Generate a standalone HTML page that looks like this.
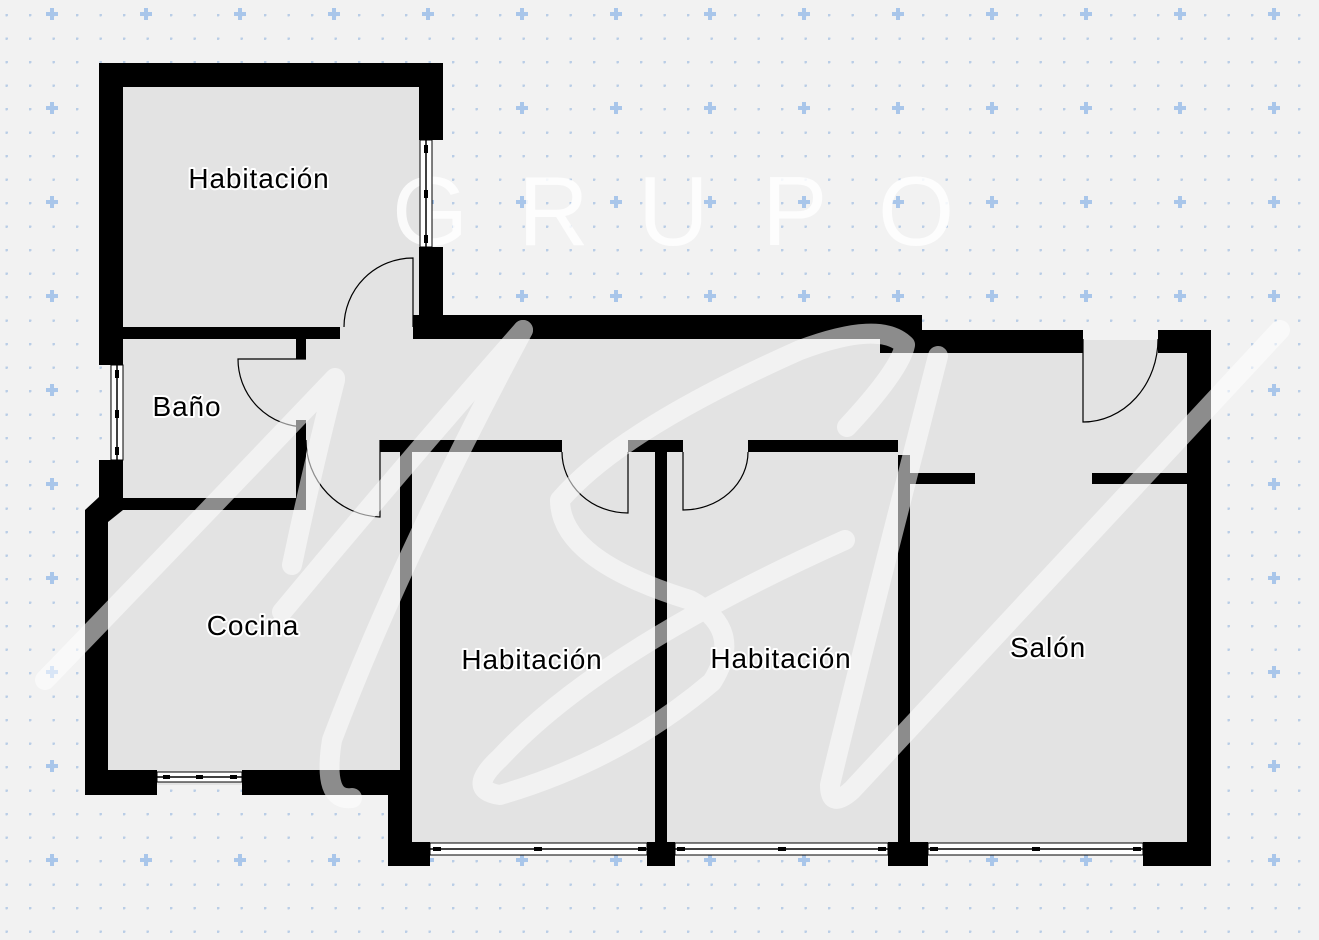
<!DOCTYPE html>
<html><head><meta charset="utf-8"><style>
html,body{margin:0;padding:0;background:#f2f2f2;}
svg{display:block;}
.lbl{font-family:"Liberation Sans",sans-serif;font-size:28px;letter-spacing:0.9px;fill:#000;stroke:#fff;stroke-width:4px;paint-order:stroke;stroke-linejoin:round;}
</style></head><body>
<svg width="1319" height="940" viewBox="0 0 1319 940" xmlns="http://www.w3.org/2000/svg">
<defs>
<pattern id="dots" x="5.5" y="14" width="23.5" height="23.5" patternUnits="userSpaceOnUse">
<circle cx="1" cy="1" r="1.5" fill="#b9cde6"/>
</pattern>
<pattern id="cross" x="46" y="8" width="94" height="94" patternUnits="userSpaceOnUse">
<rect x="0" y="4" width="12" height="4" fill="#a9c6ea"/>
<rect x="4" y="0" width="4" height="12" fill="#a9c6ea"/>
</pattern>
</defs>
<rect width="1319" height="940" fill="#f2f2f2"/>
<rect width="1319" height="940" fill="url(#dots)"/>
<rect width="1319" height="940" fill="url(#cross)"/>

<g fill="#e3e3e3">
<rect x="110" y="75" width="320" height="430"/>
<rect x="95" y="505" width="310" height="280"/>
<rect x="300" y="330" width="600" height="120"/>
<rect x="880" y="340" width="320" height="510"/>
<rect x="400" y="445" width="500" height="405"/>
</g>

<g font-family="Liberation Sans, sans-serif" font-size="98" fill="#ffffff" opacity="0.85">
<text x="392" y="245">G</text>
<text x="518" y="245">R</text>
<text x="638" y="245">U</text>
<text x="762" y="245">P</text>
<text x="878" y="245">O</text>
</g>

<g fill="#000">
<rect x="99" y="63" width="344" height="24"/>
<rect x="99" y="63" width="24" height="302"/>
<rect x="419" y="63" width="24" height="77"/>
<rect x="419" y="247" width="24" height="92"/>
<rect x="123" y="327" width="217" height="12"/>
<rect x="413" y="315" width="509" height="24"/>
<rect x="880" y="315" width="42" height="38"/>
<rect x="922" y="330" width="161" height="23"/>
<rect x="1158" y="330" width="53" height="23"/>
<rect x="1187" y="330" width="24" height="536"/>
<rect x="99" y="460" width="24" height="40"/>
<rect x="296" y="339" width="10" height="20"/>
<rect x="296" y="420" width="10" height="90"/>
<rect x="108" y="498" width="198" height="12"/>
<polygon points="99,497 123,497 123,510 108,522 108,795 85,795 85,510"/>
<rect x="85" y="770" width="72" height="25"/>
<rect x="242" y="770" width="170" height="25"/>
<rect x="400" y="440" width="12" height="355"/>
<rect x="388" y="770" width="24" height="96"/>
<rect x="380" y="440" width="182" height="12"/>
<rect x="628" y="440" width="55" height="12"/>
<rect x="748" y="440" width="150" height="12"/>
<rect x="655" y="440" width="12" height="405"/>
<rect x="898" y="455" width="12" height="390"/>
<rect x="910" y="473" width="65" height="11"/>
<rect x="1092" y="473" width="95" height="11"/>
<rect x="388" y="842" width="42" height="24"/>
<rect x="647" y="842" width="28" height="24"/>
<rect x="888" y="842" width="40" height="24"/>
<rect x="1143" y="842" width="68" height="24"/>
</g>

<g fill="#fff" stroke="#000" stroke-width="1">
<rect x="420" y="140" width="12" height="107"/>
<rect x="111" y="365" width="12" height="95"/>
<rect x="157" y="772" width="85" height="10"/>
<rect x="430" y="843" width="217" height="12"/>
<rect x="675" y="843" width="213" height="12"/>
<rect x="928" y="843" width="215" height="12"/>
</g>
<g stroke="#000" stroke-width="1.5">
<line x1="426" y1="140" x2="426" y2="247"/>
<line x1="117" y1="365" x2="117" y2="460"/>
<line x1="157" y1="777" x2="242" y2="777"/>
<line x1="430" y1="849" x2="647" y2="849"/>
<line x1="675" y1="849" x2="888" y2="849"/>
<line x1="928" y1="849" x2="1143" y2="849"/>
</g>
<g fill="#000">
<rect x="424" y="145" width="4" height="8"/><rect x="424" y="190" width="4" height="8"/><rect x="424" y="235" width="4" height="8"/>
<rect x="115" y="370" width="4" height="8"/><rect x="115" y="410" width="4" height="8"/><rect x="115" y="447" width="4" height="8"/>
<rect x="433" y="847" width="8" height="4"/><rect x="534" y="847" width="8" height="4"/><rect x="638" y="847" width="8" height="4"/>
<rect x="677" y="847" width="8" height="4"/><rect x="778" y="847" width="8" height="4"/><rect x="878" y="847" width="8" height="4"/>
<rect x="930" y="847" width="8" height="4"/><rect x="1032" y="847" width="8" height="4"/><rect x="1133" y="847" width="8" height="4"/>
<rect x="163" y="775" width="7" height="4"/><rect x="196" y="775" width="7" height="4"/><rect x="230" y="775" width="7" height="4"/>
</g>

<g fill="none" stroke="#000" stroke-width="1.2">
<path d="M413,327 L413,258 A69,69 0 0 0 344,327"/>
<path d="M306,359 L238,359 A68,68 0 0 0 306,427"/>
<path d="M380,440 L380,517 A77,77 0 0 1 306,440"/>
<path d="M628,452 L628,513 A66,61 0 0 1 562,452"/>
<path d="M683,452 L683,510 A65,58 0 0 0 748,452"/>
<path d="M1083,339 L1083,422 A75,83 0 0 0 1158,339"/>
</g>

<g fill="none" stroke="#ffffff" stroke-width="20" stroke-linecap="round" stroke-linejoin="round" opacity="0.55">
<path d="M45,680 Q190,530 335,378"/>
<path d="M335,380 Q312,470 292,565"/>
<path d="M282,612 Q400,470 523,330"/>
<path d="M523,330 Q400,560 332,740 Q322,802 352,798"/>
<path d="M847,427 Q900,370 905,345 Q880,320 800,350 Q620,430 560,500 Q560,560 690,600 Q745,630 712,682 Q620,760 500,795 Q465,790 500,758 Q600,650 845,540"/>
<path d="M938,356 Q850,700 830,785 Q830,810 852,790 L1280,330"/>
</g>

<text class="lbl" x="259" y="188" text-anchor="middle">Habitación</text>
<text class="lbl" x="187" y="416" text-anchor="middle">Baño</text>
<text class="lbl" x="253" y="635" text-anchor="middle">Cocina</text>
<text class="lbl" x="532" y="669" text-anchor="middle">Habitación</text>
<text class="lbl" x="781" y="668" text-anchor="middle">Habitación</text>
<text class="lbl" x="1048" y="657" text-anchor="middle">Salón</text>
</svg>
</body></html>
